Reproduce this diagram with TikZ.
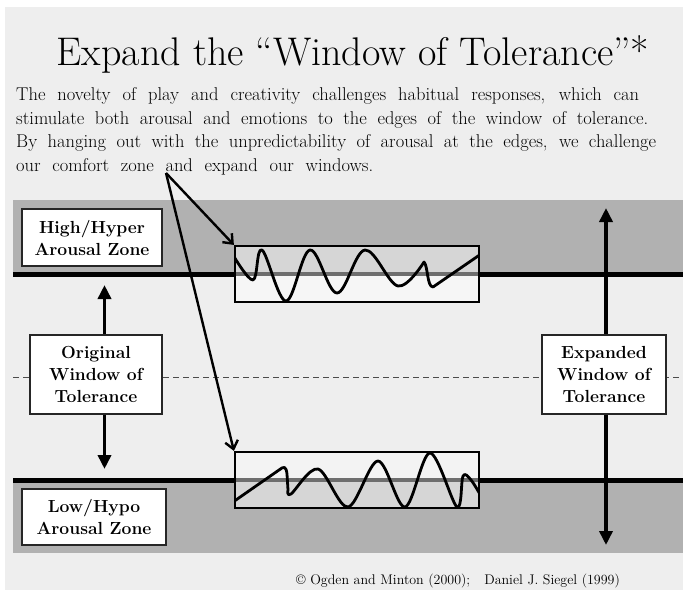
\documentclass[tikz,border=0pt]{standalone}
\usetikzlibrary{arrows.meta}
\definecolor{bgc}{HTML}{EEEEEE}
\definecolor{bandc}{HTML}{B1B1B1}
\definecolor{winc}{HTML}{D6D6D6}
\definecolor{palec}{HTML}{F6F6F6}
\definecolor{stripec}{HTML}{6E6E6E}
\tikzset{
  lbl/.style={draw=black!85, line width=1.2pt, fill=white, align=center, inner sep=0pt,
    font=\bfseries\fontsize{17.5}{22}\selectfont},
  para/.style={anchor=base west, inner sep=0pt, font=\fontsize{18.5}{24}\selectfont},
  varrow/.style={line width=3.5pt, -{Triangle[length=14pt,width=13pt]}},
  darrow/.style={line width=2.4pt, -{Straight Barb[length=8pt,width=13pt]}},
  zoneline/.style={line width=5pt},
  wave/.style={line width=2.8pt, line join=round, line cap=round},
  winbox/.style={draw, line width=2.2pt, inner sep=0pt, minimum width=244pt, minimum height=56pt}
}
\begin{document}
\begin{tikzpicture}[x=1pt,y=-1pt]
\useasboundingbox (0,0) rectangle (683,590);
\fill[white] (0,0) rectangle (683,590);
\fill[bgc] (5,7) rectangle (683,590);
% bands
\fill[bandc] (13,200) rectangle (683,274);
\fill[bandc] (13,480) rectangle (683,553);
% dashed middle line
\draw[black!70, line width=0.8pt, dash pattern=on 6pt off 4pt] (13,377) -- (683,377);
% zone lines
\draw[zoneline] (13,274) -- (235,274);
\draw[zoneline] (479,274) -- (683,274);
\draw[zoneline] (13,480) -- (235,480);
\draw[zoneline] (479,480) -- (683,480);
% vertical arrows
\node[lbl, minimum width=132pt, minimum height=79pt] (orig) at (96,374.5) {Original\\Window of\\Tolerance};
\node[lbl, minimum width=124pt, minimum height=79pt] (exp) at (604,374.5) {Expanded\\Window of\\Tolerance};
\coordinate (lt) at (104.5,285);
\coordinate (lb) at (104.5,469);
\coordinate (rt) at (606,208);
\coordinate (rb) at (606,545);
\draw[varrow] (orig.north -| lt) -- (lt);
\draw[varrow] (orig.south -| lb) -- (lb);
\draw[varrow] (exp.north -| rt) -- (rt);
\draw[varrow] (exp.south -| rb) -- (rb);
% redraw boxes on top
\node[lbl, minimum width=132pt, minimum height=79pt] at (96,374.5) {Original\\Window of\\Tolerance};
\node[lbl, minimum width=124pt, minimum height=79pt] at (604,374.5) {Expanded\\Window of\\Tolerance};
\node[lbl, minimum width=140pt, minimum height=57pt] (high) at (92,237.5) {High/Hyper\\Arousal Zone};
\node[lbl, minimum width=144pt, minimum height=56pt] (low) at (94,517) {Low/Hypo\\Arousal Zone};
% upper window
\fill[winc] (235,246) rectangle (479,274);
\fill[palec] (235,274) rectangle (479,302);
\draw[stripec, line width=4pt] (235,274) -- (479,274);
\begin{scope}
\clip (235,246) rectangle (479,302);
\draw[wave] plot[smooth, tension=0.6] coordinates {(233,255) (253,280) (262,250) (286,301) (310,250) (337,293) (365,250) (398,286) (424,262)}
  .. controls (428,266) and (427,287) .. (433,287) -- (481,254);
\end{scope}
\node[winbox] (upbox) at (357,274) {};
% lower window
\fill[palec!60!bgc] (235,452) rectangle (479,480);
\fill[winc] (235,480) rectangle (479,508);
\draw[stripec, line width=4pt] (235,480) -- (479,480);
\begin{scope}
\clip (235,452) rectangle (479,508);
\draw[wave] (233,502) -- (279,470) .. controls (284,466) and (286,466) .. (287,474) -- (288,490)
  plot[smooth, tension=0.55] coordinates {(288,490) (291,494) (318,469) (348,507) (378,461) (405,507) (430,453) (457,507) (463,476) (471,480) (481,496)};
\end{scope}
\node[winbox] (lowbox) at (357,480) {};
% title and text
\node[anchor=base, inner sep=0pt, font=\fontsize{40}{44}\selectfont] (title) at (353,65) {Expand the “Window of Tolerance”*};
\node[para] (p1) at (16,100) {\makebox[623pt][s]{The novelty of play and creativity challenges habitual responses, which can}};
\node[para] (p2) at (16,124) {\makebox[632pt][s]{stimulate both arousal and emotions to the edges of the window of tolerance.}};
\node[para] (p3) at (16,147) {\makebox[640pt][s]{By hanging out with the unpredictability of arousal at the edges, we challenge}};
\node[para] (p4) at (16,171) {\makebox[357pt][s]{our comfort zone and expand our windows.}};
% diagonal arrows
\coordinate (src) at (166,173);
\draw[darrow] (src) -- (upbox.north west);
\draw[darrow] (src) -- (lowbox.north west);
% footer
\node[anchor=base west, inner sep=0pt, font=\fontsize{14}{16}\selectfont] (foot) at (296,584) {© Ogden and Minton (2000);\quad Daniel J. Siegel (1999)};
\end{tikzpicture}
\end{document}
